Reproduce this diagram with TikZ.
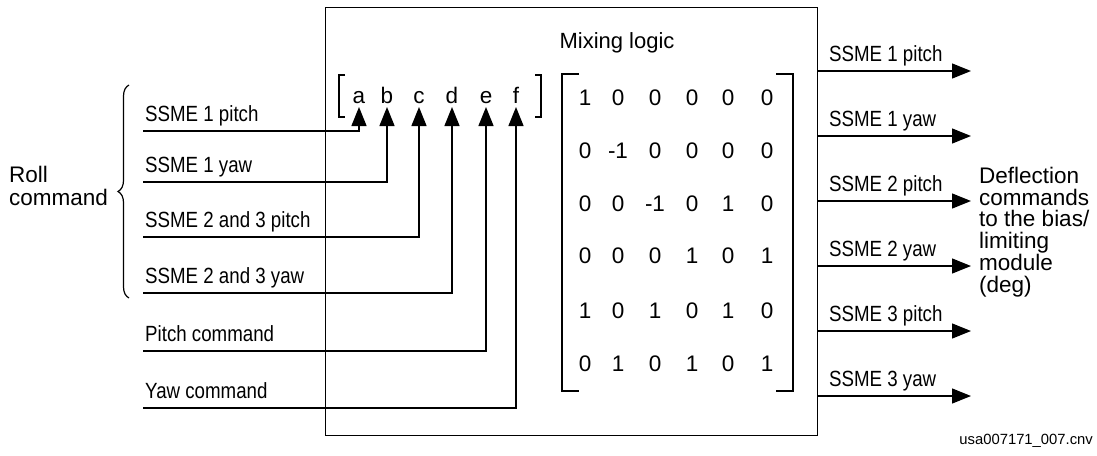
\documentclass[tikz,border=0pt]{standalone}
\usepackage{fontspec}
\setmainfont{Liberation Sans}
\newfontfamily\nar[FakeStretch=0.85]{Liberation Sans}
\usetikzlibrary{arrows.meta,decorations.pathreplacing}
\begin{document}
\begin{tikzpicture}[x=1pt,y=-1pt,
  wire/.style={line width=1.3pt},
  arr/.style={wire,-{Triangle[length=19pt,width=15pt]}},
  lbl/.style={font=\nar\fontsize{22}{24}\selectfont,inner sep=0pt,anchor=base west},
  big/.style={font=\fontsize{22}{22}\selectfont,inner sep=0pt},
  ent/.style={font=\fontsize{22.5}{22}\selectfont,inner sep=0pt,anchor=base},
  brk/.style={line width=1.2pt}]
\useasboundingbox (0,0) rectangle (1097,455);
% main box
\node[draw,line width=1.2pt,minimum width=492pt,minimum height=428pt,inner sep=0pt,anchor=north west] (box) at (325,7) {};
\node[big,anchor=base] (title) at (617,48) {Mixing logic};
% input vector
\foreach \n/\x in {a/359,b/387,c/419,d/452,e/486,f/516}{
  \node[ent] (l\n) at (\x,103) {\n};
  \coordinate (t\n) at (\x,107);
}
\draw[brk] (345,75) -- (339,75) -- (339,117) -- (345,117);
\draw[brk] (535,75) -- (541,75) -- (541,117) -- (535,117);
% matrix brackets
\draw[brk] (579,74) -- (562,74) -- (562,391) -- (579,391);
\draw[brk] (776,74) -- (793,74) -- (793,391) -- (776,391);
% matrix entries
\foreach \r/\y/\row in {1/105/{1,0,0,0,0,0},2/158/{0,-1,0,0,0,0},3/211/{0,0,-1,0,1,0},4/263/{0,0,0,1,0,1},5/318/{1,0,1,0,1,0},6/371/{0,1,0,1,0,1}}{
  \foreach \v [count=\c] in \row {
    \pgfmathsetmacro{\xx}{{585,618,655,692,728,767}[\c-1]}
    \node[ent] (m\r\c) at (\xx,\y) {\v};
  }
}
% inputs
\foreach \i/\y/\t/\k in {1/131/{SSME 1 pitch}/a,2/182/{SSME 1 yaw}/b,3/237/{SSME 2 and 3 pitch}/c,4/293/{SSME 2 and 3 yaw}/d,5/351/{Pitch command}/e,6/408/{Yaw command}/f}{
  \coordinate (s\i) at (143,\y);
  \node[lbl] (in\i) at (145,\y-10) {\t};
  \draw[arr] (s\i) -| (t\k);
}
% brace and roll command
\draw[line width=1.2pt,decorate,decoration={brace,amplitude=11pt}] (129,298) -- (129,85);
\node[big,align=left,anchor=west,font=\fontsize{22.5}{23}\selectfont] (roll) at (9,186) {Roll\\command};
% outputs
\foreach \i/\y/\t in {1/71/{SSME 1 pitch},2/136/{SSME 1 yaw},3/201/{SSME 2 pitch},4/266/{SSME 2 yaw},5/331/{SSME 3 pitch},6/396/{SSME 3 yaw}}{
  \coordinate (os\i) at (box.east |- 0,\y);
  \coordinate (oe\i) at (971,\y);
  \node[lbl] (out\i) at (829,\y-10) {\t};
  \draw[arr] (os\i) -- (oe\i);
}
\node[big,align=left,anchor=north west,font=\fontsize{22.5}{21.7}\selectfont] (defl) at (979,167) {Deflection\\commands\\to the bias/\\limiting\\module\\(deg)};
\node[inner sep=0pt,anchor=base east,font=\fontsize{14.8}{15}\selectfont] (file) at (1093,444) {usa007171\_007.cnv};
\end{tikzpicture}
\end{document}
